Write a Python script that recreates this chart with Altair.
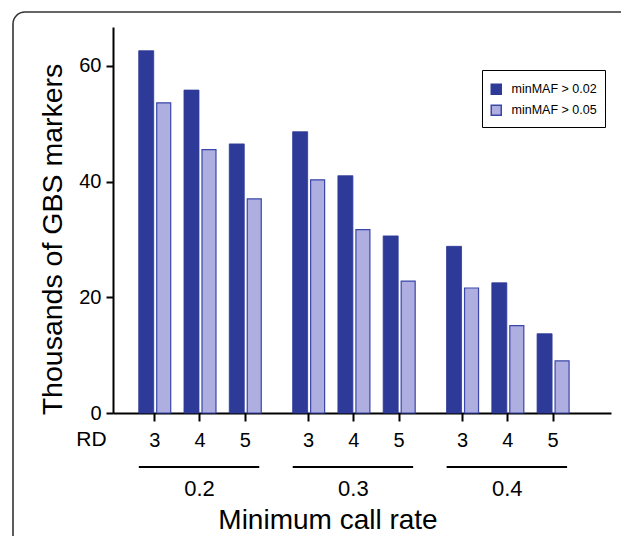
import altair as alt
import pandas as pd

# ---- data ----
call_rates = ["0.2", "0.3", "0.4"]
rd_levels = [3, 4, 5]
series_names = ["minMAF > 0.02", "minMAF > 0.05"]
maf_002 = [62.6, 55.8, 46.5, 48.6, 41.0, 30.6, 28.8, 22.5, 13.7]
maf_005 = [53.6, 45.5, 37.0, 40.3, 31.7, 22.8, 21.6, 15.1, 9.0]
y_ticks = [0, 20, 40, 60]

# layout units on the x scale (group step / rd step)
GROUP_STEP = 34
RD_STEP = 10

DARK = "#2E3A98"
LIGHT = "#AEAEE0"
EDGE = "#3A46A8"
FONT = "Liberation Sans"

rows = []
for gi, cr in enumerate(call_rates):
    for ri, rd in enumerate(rd_levels):
        k = gi * len(rd_levels) + ri
        pos = gi * GROUP_STEP + ri * RD_STEP
        rows.append(dict(call_rate=cr, rd=rd, pos=pos, series=series_names[0], value=maf_002[k]))
        rows.append(dict(call_rate=cr, rd=rd, pos=pos, series=series_names[1], value=maf_005[k]))
df = pd.DataFrame(rows)
positions = sorted(int(p) for p in df["pos"].unique())

groups = pd.DataFrame({
    "call_rate": call_rates,
    "mid": [gi * GROUP_STEP + RD_STEP for gi in range(len(call_rates))],
})

rd_array = "[" + ",".join("'%d'" % r for r in rd_levels) + "]"
label_expr = "%s[round((datum.value %% %d) / %d)]" % (rd_array, GROUP_STEP, RD_STEP)

x_scale = alt.Scale(domain=[-8, 99.8], nice=False, zero=False)
y_scale = alt.Scale(domain=[0, 66.7], nice=False)

x_enc = alt.X(
    "pos:Q",
    scale=x_scale,
    axis=alt.Axis(
        values=positions, labelExpr=label_expr, grid=False,
        domainColor="black", domainWidth=2, tickColor="black", tickWidth=2,
        tickSize=8, labelPadding=9, labelFontSize=20, labelColor="black",
        labelBaseline="top", labelFont=FONT,
        title="RD", titleX=-22, titleY=26, titleAngle=0, titleAlign="center",
        titleBaseline="middle", titleFontSize=21, titleFontWeight="normal",
        titleFont=FONT, titleColor="black",
    ),
)
y_enc = alt.Y(
    "value:Q",
    scale=y_scale,
    stack=None,
    axis=alt.Axis(
        values=y_ticks, format="d", grid=False,
        domainColor="black", domainWidth=2, tickColor="black", tickWidth=2,
        tickSize=7, labelPadding=5, labelFontSize=20, labelColor="black",
        labelFont=FONT,
        title="Thousands of GBS markers", titleX=-61, titleY=212, titleAngle=-90,
        titleAlign="center", titleBaseline="middle", titleFontSize=28.5,
        titleFontWeight="normal", titleFont=FONT, titleColor="black",
    ),
)
legend = alt.Legend(
    title=" ", titleFontSize=5, titlePadding=0,
    orient="none", legendX=369, legendY=43,
    strokeColor="black", padding=8, rowPadding=4,
    symbolType="square", symbolSize=100, symbolStrokeWidth=1.5,
    labelFontSize=12.5, labelFont=FONT, labelColor="black", labelOffset=9,
)
fill_enc = alt.Fill("series:N", scale=alt.Scale(domain=series_names, range=[DARK, LIGHT]), legend=legend)
stroke_enc = alt.Stroke("series:N", scale=alt.Scale(domain=series_names, range=[DARK, EDGE]), legend=legend)

base = alt.Chart(df)
dark = base.transform_filter(alt.datum.series == series_names[0]).mark_bar(
    orient="vertical", width=15, xOffset=-8, strokeWidth=0.8
).encode(x=x_enc, y=y_enc, fill=fill_enc, stroke=stroke_enc)
light = base.transform_filter(alt.datum.series == series_names[1]).mark_bar(
    orient="vertical", width=14, xOffset=9.5, strokeWidth=1.2
).encode(x=x_enc, y=y_enc, fill=fill_enc, stroke=stroke_enc)

gbase = alt.Chart(groups)
group_lines = gbase.transform_calculate(
    x1="datum.mid - 13.4", x2="datum.mid + 13.2"
).mark_rule(color="black", strokeWidth=2).encode(
    x=alt.X("x1:Q", scale=x_scale), x2="x2:Q", y=alt.value(440)
)
group_text = gbase.mark_text(
    fontSize=22, font=FONT, color="black", baseline="middle", align="center"
).encode(x=alt.X("mid:Q", scale=x_scale), y=alt.value(462), text="call_rate:N")

x_title = alt.Chart(pd.DataFrame({"t": ["Minimum call rate"]})).mark_text(
    fontSize=28, font=FONT, color="black", baseline="middle", align="center"
).encode(x=alt.value(215), y=alt.value(494), text="t:N")

border = alt.Chart(pd.DataFrame({"k": [0]})).mark_rect(
    filled=False, stroke="#333333", strokeWidth=1.6, cornerRadius=12
).encode(x=alt.value(-100), x2=alt.value(540), y=alt.value(-15), y2=alt.value(545))

chart = alt.layer(border, dark, light, group_lines, group_text, x_title).properties(
    width=498, height=386,
    autosize=alt.AutoSizeParams(type="none"),
    padding={"left": 105, "top": 19, "right": 10, "bottom": 123},
).configure_view(strokeWidth=0)

chart.save("out.html", embed_options={"renderer": "svg", "actions": False})
